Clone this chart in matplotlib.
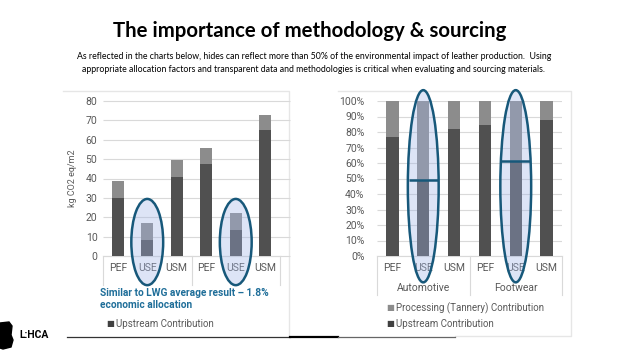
import matplotlib.pyplot as plt
from matplotlib.patches import Ellipse, Polygon

# chart data
methods = ["PEF", "USE", "USM", "PEF", "USE", "USM"]
groups = ["Automotive", "Footwear"]
left_upstream = [30, 8.5, 41, 47.5, 13.5, 65]
left_processing = [8.5, 8.5, 8.5, 8, 8.5, 8]
right_upstream = [77, 49, 82, 84.5, 61, 88]
right_processing = [100 - v for v in right_upstream]
highlight = [1, 4]  # the USE bars

title = "The importance of methodology & sourcing"
subtitle = ("As reflected in the charts below, hides can reflect more than 50% of the environmental "
            "impact of leather production.  Using\nappropriate allocation factors and transparent data "
            "and methodologies is critical when evaluating and sourcing materials.")
note = "Similar to LWG average result \u2013 1.8%\neconomic allocation"

DARK = "#505050"
LIGHT = "#8c8c8c"
GRID = "#d9d9d9"
TXT = "#595959"
BLUE = "#17587a"
FILL = (0.62, 0.70, 0.90, 0.35)

plt.rcParams["font.family"] = ["Roboto", "DejaVu Sans"]

W, H = 640, 360
fig = plt.figure(figsize=(6.4, 3.6), dpi=100)


def box(x0, x1, ytop, ybot):
    # pixel box -> figure fraction rect
    return [x0 / W, 1 - ybot / H, (x1 - x0) / W, (ybot - ytop) / H]


# overlay in pixel coords for slide decorations
deco = fig.add_axes([0, 0, 1, 1], zorder=0)
deco.set_xlim(0, W)
deco.set_ylim(H, 0)
deco.axis("off")

deco.text(310, 31, title, ha="center", va="center", fontsize=14.7,
          fontweight="bold", family=["Lato", "DejaVu Sans"], color="black")
deco.text(314, 63, subtitle, ha="center", va="center", fontsize=6.3,
          family=["Lato", "DejaVu Sans"], color="black", linespacing=1.45)

# panel borders
deco.plot([63, 289, 289], [91, 91, 336], color="#e6e6e6", lw=1)
deco.plot([338, 571, 571, 455], [91, 91, 336, 336], color="#e6e6e6", lw=1)
deco.plot([67, 290], [337, 337], color="#333333", lw=0.9)
deco.plot([290, 338], [337, 337], color="black", lw=1.6)
deco.plot([338, 455], [337, 337], color="#666666", lw=0.9)

# logo
deco.add_patch(Polygon([(0, 323), (9, 322), (12, 326), (11, 335), (13, 340), (11, 347),
                        (3, 349), (0, 348)], closed=True, color="black"))
deco.text(19, 335, "L:HCA", ha="left", va="center", fontsize=7.5,
          fontweight="bold", color="black")

# left chart
ax1 = fig.add_axes(box(103, 280, 101, 256), zorder=2)
x = range(len(methods))
ax1.bar(x, left_upstream, width=0.42, color=DARK, zorder=2)
ax1.bar(x, left_processing, width=0.42, bottom=left_upstream, color=LIGHT, zorder=2)
ax1.set_xlim(-0.5, 5.5)
ax1.set_ylim(0, 80)
ax1.set_yticks(range(0, 81, 10))
ax1.hlines(range(0, 81, 10), -0.5, 5.85, color=GRID, lw=0.8, zorder=1, clip_on=False)
ax1.set_ylabel("kg CO2 eq/m2", fontsize=6.5, color=TXT, labelpad=6)
for i in highlight:
    ax1.add_patch(Ellipse((i, 7.2), 1.08, 44.5, facecolor=FILL, edgecolor=BLUE,
                          lw=1.8, zorder=3, clip_on=False))

# right chart
ax2 = fig.add_axes(box(377, 562, 101, 256), zorder=2)
ax2.bar(x, right_upstream, width=0.4, color=DARK, zorder=2)
ax2.bar(x, right_processing, width=0.4, bottom=right_upstream, color=LIGHT, zorder=2)
ax2.set_xlim(-0.5, 5.5)
ax2.set_ylim(0, 100)
ax2.set_yticks(range(0, 101, 10))
ax2.set_yticklabels([f"{v}%" for v in range(0, 101, 10)])
ax2.hlines(range(0, 101, 10), -0.5, 5.5, color=GRID, lw=0.8, zorder=1)
for i in highlight:
    ax2.add_patch(Ellipse((i, 45), 1.0, 124, facecolor=FILL, edgecolor=BLUE,
                          lw=1.8, zorder=3, clip_on=False))
    ax2.hlines(right_upstream[i], i - 0.47, i + 0.47, color=BLUE, lw=1.8, zorder=4)

for ax, depth in [(ax1, 29), (ax2, 39)]:
    for s in ax.spines.values():
        s.set_visible(False)
    ax.set_xticks(list(x))
    ax.set_xticklabels(methods)
    ax.tick_params(length=0, labelsize=7.5, labelcolor=TXT)
    ax.tick_params(axis="y", pad=4 if ax is ax1 else 9)
    ax.tick_params(axis="x", pad=5)
    # multi-level category box
    tr = ax.get_xaxis_transform()
    ax.plot([-0.5, 5.5], [0, 0], color=GRID, lw=0.8, transform=tr, clip_on=False, zorder=1)
    for sep in [-0.5, 2.5, 5.5]:
        ax.plot([sep, sep], [0, -depth / 155], color=GRID, lw=0.8, transform=tr,
                clip_on=False, zorder=1)

for k, g in enumerate(groups):
    ax2.text(1 + 3 * k, -32 / 155, g, transform=ax2.get_xaxis_transform(),
             ha="center", va="center", fontsize=7.5, color=TXT)

# legends as text rows
deco.text(386, 308, "\u25a0", color=LIGHT, fontsize=6, ha="left", va="center")
deco.text(396, 308, "Processing (Tannery) Contribution", color=TXT, fontsize=7,
          ha="left", va="center")
deco.text(386, 324, "\u25a0", color="#404040", fontsize=6, ha="left", va="center")
deco.text(396, 324, "Upstream Contribution", color=TXT, fontsize=7, ha="left", va="center")
deco.text(106, 324, "\u25a0", color="#404040", fontsize=6, ha="left", va="center")
deco.text(116, 324, "Upstream Contribution", color=TXT, fontsize=7, ha="left", va="center")

deco.text(100, 299, note, color="#1f6e99", fontsize=7.3, fontweight="bold",
          ha="left", va="center", linespacing=1.3)

fig.savefig("out.png", dpi=100)
